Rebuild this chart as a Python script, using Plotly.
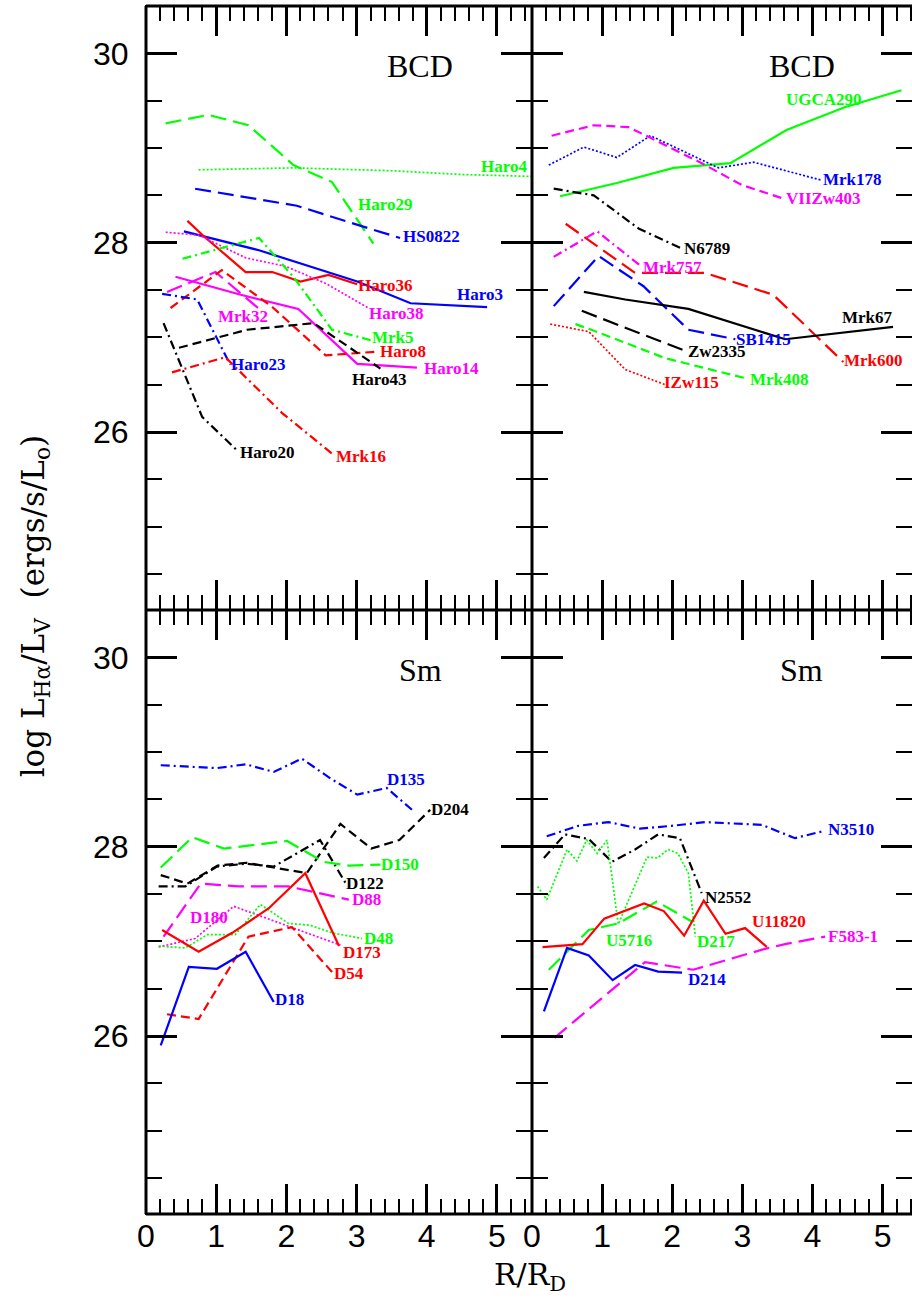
import plotly.graph_objects as go
from plotly.subplots import make_subplots

# ---------------- data ----------------
# Panel 1: BCD (top-left)
haro4_x = [0.75, 2.1, 3.5, 4.5, 5.5]
haro4_y = [28.77, 28.79, 28.76, 28.72, 28.70]
haro29_x = [0.28, 0.89, 1.46, 2.10, 2.65, 3.24]
haro29_y = [29.26, 29.35, 29.24, 28.82, 28.64, 27.99]
hs0822_x = [0.70, 1.58, 2.15, 3.05, 3.62]
hs0822_y = [28.57, 28.46, 28.39, 28.18, 28.05]
haro3_x = [0.54, 0.80, 1.61, 2.63, 3.01, 3.77, 4.86]
haro3_y = [28.12, 28.07, 27.92, 27.68, 27.59, 27.36, 27.32]
haro36_x = [0.59, 0.82, 1.42, 1.80, 2.20, 2.60, 3.01]
haro36_y = [28.23, 28.07, 27.69, 27.69, 27.59, 27.66, 27.56]
haro38_x = [0.28, 0.75, 1.42, 1.99, 2.56, 3.17]
haro38_y = [28.11, 28.08, 27.84, 27.75, 27.57, 27.31]
mrk5_x = [0.52, 1.61, 2.10, 2.65, 3.20]
mrk5_y = [27.83, 28.05, 27.64, 27.08, 26.97]
mrk32_x = [0.30, 0.99, 1.66]
mrk32_y = [27.48, 27.69, 27.27]
haro14_x = [0.42, 1.35, 2.17, 2.67, 3.01, 3.86]
haro14_y = [27.64, 27.45, 27.30, 26.95, 26.72, 26.68]
haro8_x = [0.35, 1.08, 1.80, 2.56, 3.32]
haro8_y = [27.31, 27.71, 27.32, 26.81, 26.85]
haro43_x = [0.47, 1.44, 2.39, 3.34]
haro43_y = [26.89, 27.08, 27.15, 26.67]
haro23_x = [0.23, 0.73, 1.20]
haro23_y = [27.46, 27.40, 26.71]
mrk16_x = [0.37, 1.13, 1.94, 2.67]
mrk16_y = [26.63, 26.79, 26.20, 25.76]
haro20_x = [0.25, 0.80, 1.32]
haro20_y = [27.15, 26.16, 25.79]

# Panel 2: BCD (top-right)
ugca290_x = [0.40, 1.21, 2.02, 2.83, 3.63, 4.46, 5.27]
ugca290_y = [28.49, 28.63, 28.79, 28.84, 29.19, 29.43, 29.61]
mrk178_x = [0.24, 0.74, 1.21, 1.69, 2.66, 3.16, 4.13]
mrk178_y = [28.82, 29.01, 28.90, 29.13, 28.79, 28.85, 28.66]
viizw403_x = [0.28, 0.88, 1.38, 1.71, 2.42, 2.99, 3.61]
viizw403_y = [29.13, 29.24, 29.22, 29.10, 28.84, 28.61, 28.46]
n6789_x = [0.31, 0.88, 1.52, 2.16]
n6789_y = [28.57, 28.50, 28.15, 27.93]
mrk757_x = [0.31, 0.93, 1.54]
mrk757_y = [27.85, 28.12, 27.76]
mrk600_x = [0.48, 1.47, 2.47, 3.44, 4.44]
mrk600_y = [28.20, 27.68, 27.68, 27.45, 26.74]
sb1415_x = [0.31, 0.95, 1.59, 2.23, 2.90]
sb1415_y = [27.33, 27.86, 27.54, 27.08, 26.98]
mrk67_x = [0.74, 1.33, 2.23, 3.61, 5.15]
mrk67_y = [27.48, 27.40, 27.30, 26.98, 27.11]
zw2335_x = [0.71, 1.57, 2.21]
zw2335_y = [27.28, 27.03, 26.85]
mrk408_x = [0.62, 0.81, 1.90, 3.09]
mrk408_y = [27.14, 27.09, 26.78, 26.56]
izw115_x = [0.26, 0.81, 1.33, 1.90]
izw115_y = [27.14, 27.06, 26.66, 26.50]

# Panel 3: Sm (bottom-left)
d135_x = [0.21, 1.01, 1.42, 1.82, 2.22, 2.63, 3.01, 3.43, 3.79]
d135_y = [28.86, 28.83, 28.87, 28.79, 28.93, 28.72, 28.55, 28.62, 28.39]
d204_x = [0.21, 0.59, 1.02, 1.43, 2.29, 2.77, 3.21, 3.61, 4.05]
d204_y = [27.70, 27.61, 27.80, 27.83, 27.72, 28.24, 27.98, 28.07, 28.39]
d122_x = [0.18, 0.56, 1.01, 1.42, 1.82, 2.48, 2.84]
d122_y = [27.58, 27.58, 27.79, 27.82, 27.79, 28.07, 27.62]
d150_x = [0.21, 0.66, 1.11, 2.01, 2.53, 2.89, 3.34]
d150_y = [27.78, 28.10, 27.98, 28.06, 27.84, 27.80, 27.81]
d88_x = [0.25, 0.78, 1.32, 2.03, 2.89]
d88_y = [27.05, 27.61, 27.58, 27.58, 27.44]
d180_x = [0.18, 0.70, 1.25, 2.03, 2.77]
d180_y = [26.94, 27.03, 27.37, 27.16, 26.96]
d48_x = [0.18, 0.56, 0.87, 1.27, 1.63, 2.03, 2.34, 2.65, 3.08]
d48_y = [26.95, 26.93, 27.07, 27.07, 27.39, 27.19, 27.17, 27.09, 27.03]
d173_x = [0.23, 0.75, 1.23, 1.75, 2.27, 2.75]
d173_y = [27.12, 26.89, 27.09, 27.35, 27.72, 26.95]
d54_x = [0.30, 0.75, 1.46, 2.08, 2.67]
d54_y = [26.23, 26.18, 27.05, 27.15, 26.66]
d18_x = [0.21, 0.61, 1.01, 1.42, 1.82]
d18_y = [25.90, 26.73, 26.71, 26.89, 26.36]

# Panel 4: Sm (bottom-right)
n3510_x = [0.21, 0.66, 1.09, 1.54, 1.99, 2.47, 3.28, 3.75, 4.13]
n3510_y = [28.11, 28.22, 28.26, 28.19, 28.22, 28.26, 28.23, 28.09, 28.16]
n2552_x = [0.17, 0.47, 0.81, 1.14, 1.47, 1.80, 2.11, 2.42]
n2552_y = [27.88, 28.13, 28.08, 27.84, 27.97, 28.13, 28.09, 27.51]
d217_x = [0.08, 0.21, 0.50, 0.64, 0.78, 0.93, 1.07, 1.23, 1.64, 1.79, 1.94, 2.08, 2.23, 2.33]
d217_y = [27.58, 27.44, 27.97, 27.85, 28.07, 27.93, 28.07, 27.18, 27.89, 27.88, 27.97, 27.93, 27.72, 27.05]
u5716_x = [0.24, 0.81, 1.23, 1.78, 2.28]
u5716_y = [26.70, 27.12, 27.19, 27.42, 27.21]
u11820_x = [0.15, 0.72, 1.03, 1.60, 1.88, 2.17, 2.45, 2.76, 3.04, 3.35]
u11820_y = [26.94, 26.97, 27.24, 27.40, 27.32, 27.06, 27.43, 27.08, 27.14, 26.94]
d214_x = [0.17, 0.50, 0.81, 1.15, 1.47, 1.80, 2.14]
d214_y = [26.26, 26.93, 26.85, 26.59, 26.75, 26.68, 26.67]
f583_x = [0.32, 1.61, 2.30, 3.32, 3.61, 4.18]
f583_y = [25.98, 26.78, 26.70, 26.92, 26.97, 27.05]

x_ticks = [0, 1, 2, 3, 4, 5]
y_ticks = [26, 28, 30]
panel_titles = ["BCD", "BCD", "Sm", "Sm"]

# ---------------- styles ----------------
G, B, R, M, K = "#00ff00", "#0000ff", "#ff0000", "#ff00ff", "#000000"
DASH = {
    "solid": "solid",
    "dot": "2px,2px",
    "dash": "9px,5px",
    "long": "16px,7px",
    "dashdot": "9px,4px,2px,4px",
}

# (panel, name, x, y, color, dash, label dx px, label dy px (down))
series = [
    (1, "Haro4", haro4_x, haro4_y, G, "dot", -53, -10),
    (1, "Haro29", haro29_x, haro29_y, G, "long", -17, -39),
    (1, "HS0822", hs0822_x, hs0822_y, B, "long", 1, -1),
    (1, "Haro3", haro3_x, haro3_y, B, "solid", -32, -13),
    (1, "Haro36", haro36_x, haro36_y, R, "solid", -1, 1),
    (1, "Haro38", haro38_x, haro38_y, M, "dot", -1, 5),
    (1, "Mrk5", mrk5_x, mrk5_y, G, "dashdot", -1, -3),
    (1, "Mrk32", mrk32_x, mrk32_y, M, "long", -47, 5),
    (1, "Haro14", haro14_x, haro14_y, M, "solid", 5, 1),
    (1, "Haro8", haro8_x, haro8_y, R, "dash", -1, 0),
    (1, "Haro43", haro43_x, haro43_y, K, "dash", -30, 11),
    (1, "Haro23", haro23_x, haro23_y, B, "dashdot", -1, 0),
    (1, "Mrk16", mrk16_x, mrk16_y, R, "dashdot", 1, 2),
    (1, "Haro20", haro20_x, haro20_y, K, "dashdot", -1, 1),
    (2, "UGCA290", ugca290_x, ugca290_y, G, "solid", -117, 9),
    (2, "Mrk178", mrk178_x, mrk178_y, B, "dot", -1, -1),
    (2, "VIIZw403", viizw403_x, viizw403_y, M, "dash", -1, -1),
    (2, "N6789", n6789_x, n6789_y, K, "dashdot", -1, -1),
    (2, "Mrk757", mrk757_x, mrk757_y, M, "dashdot", 1, 2),
    (2, "Mrk600", mrk600_x, mrk600_y, R, "long", -1, -1),
    (2, "SB1415", sb1415_x, sb1415_y, B, "long", -1, 0),
    (2, "Mrk67", mrk67_x, mrk67_y, K, "solid", -53, -9),
    (2, "Zw2335", zw2335_x, zw2335_y, K, "long", -1, 0),
    (2, "Mrk408", mrk408_x, mrk408_y, G, "dash", -1, 0),
    (2, "IZw115", izw115_x, izw115_y, R, "dot", -3, -2),
    (3, "D135", d135_x, d135_y, B, "dashdot", -27, -30),
    (3, "D204", d204_x, d204_y, K, "dash", -1, 0),
    (3, "D122", d122_x, d122_y, K, "dashdot", -1, 1),
    (3, "D150", d150_x, d150_y, G, "long", -1, 0),
    (3, "D88", d88_x, d88_y, M, "long", 1, 0),
    (3, "D180", d180_x, d180_y, M, "dot", -152, -28),
    (3, "D48", d48_x, d48_y, G, "dot", 0, 0),
    (3, "D173", d173_x, d173_y, R, "solid", 2, 6),
    (3, "D54", d54_x, d54_y, R, "dash", -1, 0),
    (3, "D18", d18_x, d18_y, B, "solid", -1, -2),
    (4, "N3510", n3510_x, n3510_y, B, "dashdot", 4, -2),
    (4, "N2552", n2552_x, n2552_y, K, "dashdot", 1, 4),
    (4, "D217", d217_x, d217_y, G, "dot", 0, 5),
    (4, "U5716", u5716_x, u5716_y, G, "long", -88, 19),
    (4, "U11820", u11820_x, u11820_y, R, "solid", -17, -26),
    (4, "D214", d214_x, d214_y, B, "solid", 4, 7),
    (4, "F583-1", f583_x, f583_y, M, "long", 1, 0),
]

PANEL_POS = {1: (1, 1), 2: (1, 2), 3: (2, 1), 4: (2, 2)}


def axref(letter, panel):
    return letter if panel == 1 else f"{letter}{panel}"


fig = make_subplots(rows=2, cols=2, horizontal_spacing=0, vertical_spacing=0,
                    column_widths=[386, 380])

LABEL_FONT = "Liberation Serif"
for panel, name, xs, ys, col, dash, dx, dy in series:
    r, c = PANEL_POS[panel]
    width = 1.7 if dash == "dot" else 2.2
    fig.add_trace(go.Scatter(x=xs, y=ys, mode="lines",
                             line=dict(color=col, width=width, dash=DASH[dash]),
                             hoverinfo="skip", showlegend=False), row=r, col=c)
    fig.add_annotation(x=xs[-1], y=ys[-1], xref=axref("x", panel), yref=axref("y", panel),
                       text=name, showarrow=False, xanchor="left", yanchor="middle",
                       xshift=dx, yshift=-dy,
                       font=dict(family=LABEL_FONT, size=17, color=col, weight="bold"))

# axes
TICK_FONT = dict(family="Liberation Sans", size=32, color="black")
for panel in range(1, 5):
    r, c = PANEL_POS[panel]
    xr = [0, 5.5] if c == 1 else [0, 5.42]
    fig.update_xaxes(row=r, col=c, range=xr, tickvals=x_ticks, ticktext=[str(v) for v in x_ticks],
                     ticks="inside", ticklen=30, tickwidth=2.5, tickcolor="black",
                     minor=dict(dtick=0.2, tick0=0, ticks="inside", ticklen=15, tickwidth=2, tickcolor="black"),
                     showline=True, linecolor="black", linewidth=1, mirror="ticks",
                     showgrid=False, zeroline=False, showticklabels=(r == 2),
                     ticklabelstandoff=-6, tickfont=TICK_FONT)
    fig.update_yaxes(row=r, col=c, range=[24.12, 30.5], tickvals=y_ticks, ticktext=[str(v) for v in y_ticks],
                     ticks="inside", ticklen=31, tickwidth=2.5, tickcolor="black",
                     minor=dict(dtick=0.5, tick0=0, ticks="inside", ticklen=16, tickwidth=2, tickcolor="black"),
                     showline=True, linecolor="black", linewidth=1, mirror="ticks",
                     showgrid=False, zeroline=False, showticklabels=(c == 1),
                     ticklabelstandoff=10, tickfont=TICK_FONT)

# frame (outer box and dividers), drawn once each so joints are not doubled
FRAME = dict(color="black", width=3)
xdiv = fig.layout.xaxis.domain[1]
for x0, y0, x1, y1 in [(0, 0, 0, 1), (0, 0, 1, 0), (0, 1, 1, 1), (xdiv, 0, xdiv, 1), (0, 0.5, 1, 0.5)]:
    fig.add_shape(type="line", xref="paper", yref="paper", x0=x0, y0=y0, x1=x1, y1=y1,
                  line=FRAME, layer="above")

# panel titles
for panel, title in zip(range(1, 5), panel_titles):
    fig.add_annotation(x=0.71, y=0.9, xref=axref("x", panel) + " domain", yref=axref("y", panel) + " domain",
                       text=title, showarrow=False, xanchor="center", yanchor="middle",
                       font=dict(family="Liberation Serif", size=32, color="black"))

# axis titles
fig.add_annotation(x=0.501, y=-0.052, xref="paper", yref="paper",
                   text="R/R<sub>D</sub>", showarrow=False, xanchor="center", yanchor="middle",
                   font=dict(family="DejaVu Serif", size=30, color="black"))
fig.add_annotation(x=-0.145, y=0.503, xref="paper", yref="paper", textangle=-90,
                   text="log L<sub>Hα</sub>/L<sub>V</sub>  (ergs/s/L<sub>o</sub>)",
                   showarrow=False, xanchor="center", yanchor="middle",
                   font=dict(family="DejaVu Serif", size=31, color="black"))

fig.update_layout(width=912, height=1299,
                  margin=dict(l=146, r=0, t=6, b=85),
                  plot_bgcolor="white", paper_bgcolor="white",
                  showlegend=False)

fig.write_html("out.html")
